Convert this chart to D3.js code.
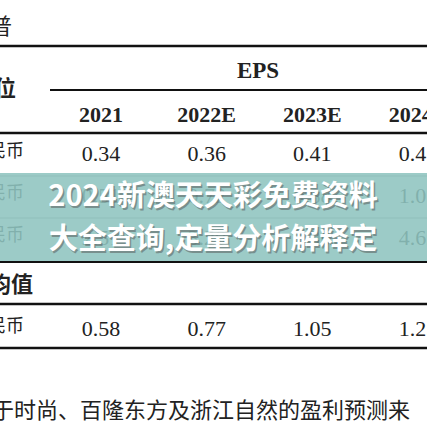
<!DOCTYPE html><html><head><meta charset="utf-8"><script src="https://cdn.jsdelivr.net/npm/d3@7"></script>
<style>body{margin:0;background:#fff}</style></head><body><svg width="427" height="427"></svg><script>
const years=["2021","2022E","2023E","2024E"];
const row1=["0.34","0.36","0.41","0.47"];
const row2=["0.51","0.72","0.88","1.05"];
const row3=["2.51","3.20","3.90","4.62"];
const avgRow=["0.58","0.77","1.05","1.25"];
const bannerLines=["2024新澳天天彩免费资料","大全查询,定量分析解释定"];
const footText="于时尚、百隆东方及浙江自然的盈利预测来";
const svg=d3.select("svg");
const x=d3.scalePoint().domain(years).range([101,418]);
const serif="'Liberation Serif','Noto Sans CJK SC',serif";
const cjk="'Noto Sans CJK SC'";
const line=(y,x1,w)=>svg.append("line").attr("x1",x1).attr("x2",427).attr("y1",y).attr("y2",y).attr("stroke","#111").attr("stroke-width",w);
const txt=(s,xx,y,o={})=>svg.append("text").attr("x",xx).attr("y",y).text(s).attr("font-family",o.f||serif).attr("font-size",o.s||22).attr("font-weight",o.b?"bold":"normal").attr("text-anchor",o.a||"middle").attr("fill",o.c||"#222");
txt("普",-10,34,{f:cjk,a:"start",s:22});
line(46,0,2.5);
txt("EPS",258,78,{b:1,s:23});
txt("位",-6,96,{f:cjk,a:"start",s:22,b:1});
line(90,50,2);
years.forEach(y=>txt(y,x(y),122,{b:1}));
line(133,0,2.5);
[[row1,157],[row2,199],[row3,241]].forEach(([r,yy],i)=>{
 txt("民币",-12,yy,{f:cjk,a:"start",s:18});
 years.forEach((y,j)=>txt(r[j],x(y),yy+4));
 if(i<2) svg.append("line").attr("x1",0).attr("x2",427).attr("y1",yy+19).attr("y2",yy+19).attr("stroke","#999").attr("stroke-width",1);
});
line(262,0,2);
txt("均值",-11,292,{f:cjk,a:"start",s:22,b:1});
line(304,0,2.5);
txt("民币",-12,332,{f:cjk,a:"start",s:18});
years.forEach((y,j)=>txt(avgRow[j],x(y),336));
line(348,0,2.5);
txt(footText,-8,418,{f:cjk,a:"start",s:22});
svg.append("rect").attr("x",0).attr("y",173).attr("width",427).attr("height",88).attr("fill","#8ec4bf").attr("opacity",0.88);
bannerLines.forEach((s,i)=>{
 txt(s,213,206+i*43,{f:cjk,s:29,b:1,c:"#555"}).attr("dx",1.5).attr("dy",1.5).attr("opacity",0.5);
 txt(s,213,206+i*43,{f:cjk,s:29,b:1,c:"#fff"});
});
</script></body></html>
